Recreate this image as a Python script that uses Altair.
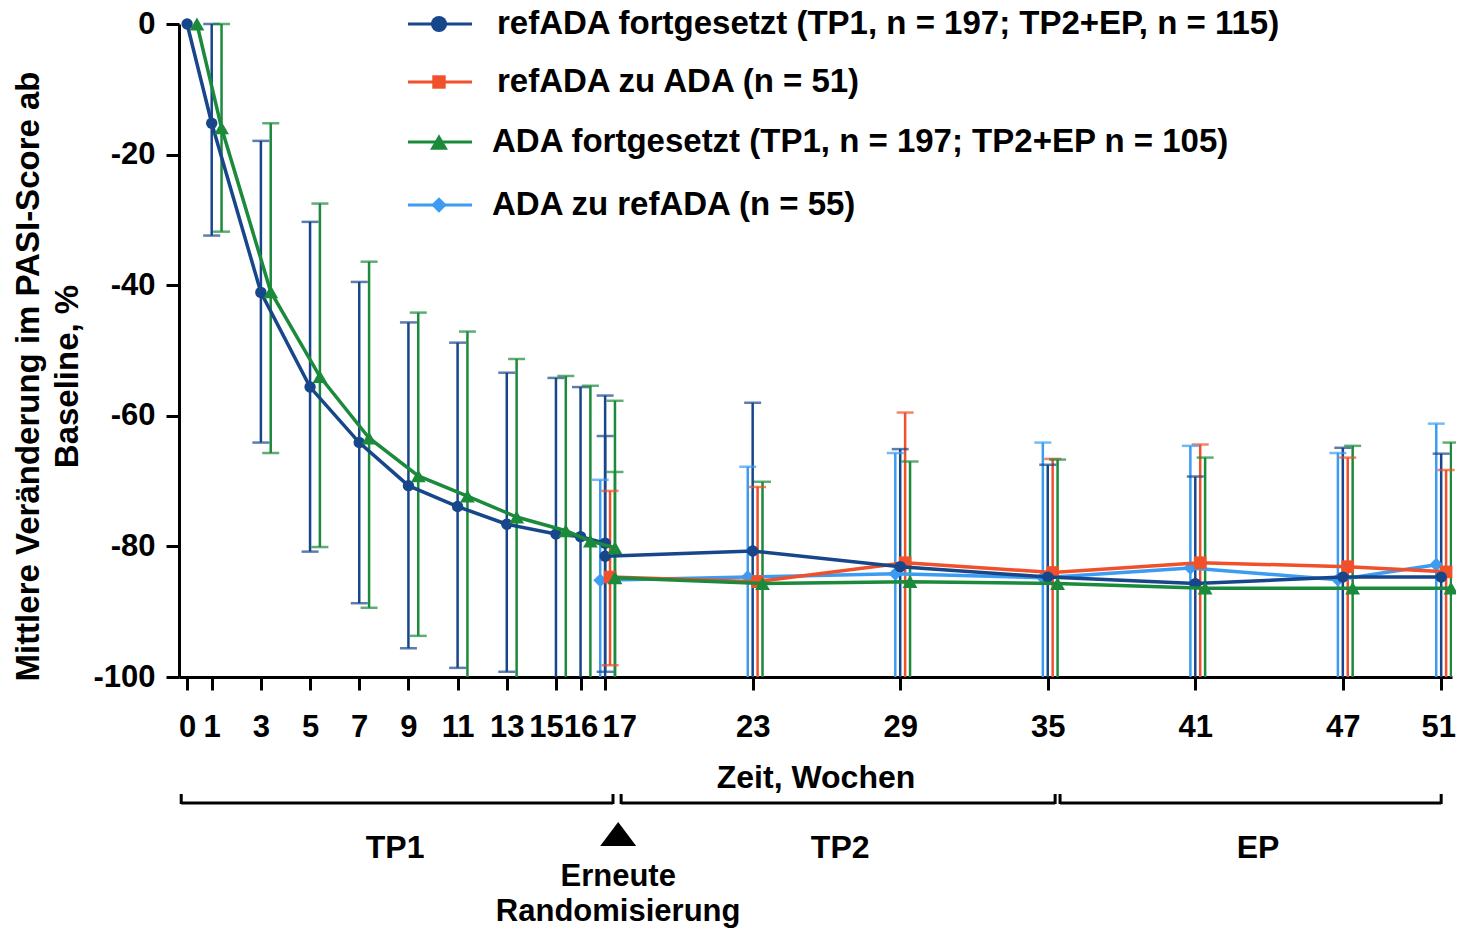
import math
import altair as alt
import pandas as pd

FONT = "Liberation Sans, Arial, Helvetica, sans-serif"

# ---------------- data ----------------
S_BLUE = "refADA fortgesetzt"
S_RED = "refADA zu ADA"
S_GREEN = "ADA fortgesetzt"
S_LB = "ADA zu refADA"

series_names = [S_BLUE, S_RED, S_GREEN, S_LB]
series_colors = ["#17468a", "#f0502a", "#1b8a3b", "#3b9cf2"]
series_shapes = ["circle", "square", "triangle-up", "diamond"]
series_point_size = [130, 160, 220, 190]
series_dx = [0.0, 0.2, 0.4, -0.2]          # small dodge (weeks) between groups
draw_order = [S_LB, S_RED, S_BLUE, S_GREEN]

legend_labels = [
    "refADA fortgesetzt (TP1, n = 197; TP2+EP, n = 115)",
    "refADA zu ADA (n = 51)",
    "ADA fortgesetzt (TP1, n = 197; TP2+EP n = 105)",
    "ADA zu refADA (n = 55)",
]

x_ticks = [0, 1, 3, 5, 7, 9, 11, 13, 15, 16, 17, 23, 29, 35, 41, 47, 51]
y_ticks = [-100, -80, -60, -40, -20, 0]

NaN = float("nan")
weeks_tp1 = [0, 1, 3, 5, 7, 9, 11, 13, 15, 16, 17]
weeks_tp2 = [17, 23, 29, 35, 41, 47, 51]

blue_tp1_mean = [0, -15.2, -41.1, -55.6, -64.1, -70.7, -73.9, -76.6, -78.1, -78.5, -79.5]
blue_tp1_hi = [NaN, 0, -17.9, -30.3, -39.5, -45.7, -48.8, -53.4, -54.2, -55.6, -56.9]
blue_tp1_lo = [NaN, -32.4, -64.1, -80.8, -88.7, -95.6, -98.6, -99.2, -102.0, -101.4, -102.1]

green_tp1_mean = [0, -15.9, -41.0, -54.0, -63.4, -69.2, -72.3, -75.5, -77.6, -79.2, -80.2]
green_tp1_hi = [NaN, 0, -15.2, -27.5, -36.4, -44.2, -47.1, -51.3, -53.9, -55.4, -57.7]
green_tp1_lo = [NaN, -31.8, -65.7, -80.1, -89.4, -93.7, -101.0, -101.0, -101.5, -102.0, -103.0]

blue_tp2_mean = [-81.5, -80.7, -83.1, -84.7, -85.7, -84.7, -84.7]
blue_tp2_hi = [-63.1, -58.0, -65.1, -67.5, -69.3, -64.9, -65.8]
blue_tp2_lo = [-99.2, -103.4, -101.1, -101.9, -102.1, -104.5, -103.6]

red_tp2_mean = [-84.7, -85.4, -82.5, -84.0, -82.5, -83.1, -83.9]
red_tp2_hi = [-71.5, -70.9, -59.5, -66.6, -64.4, -66.4, -68.3]
red_tp2_lo = [-98.2, -100.5, -105.5, -101.4, -100.6, -100.5, -100.5]

green_tp2_mean = [-84.8, -85.7, -85.4, -85.7, -86.4, -86.4, -86.4]
green_tp2_hi = [-68.6, -70.1, -67.0, -66.7, -66.4, -64.6, -64.1]
green_tp2_lo = [-101.0, -101.3, -103.8, -104.7, -106.4, -108.2, -108.7]

lb_tp2_mean = [-85.2, -84.7, -84.2, -84.8, -83.3, -85.1, -82.8]
lb_tp2_hi = [-69.8, -67.8, -65.7, -64.1, -64.6, -65.7, -61.2]
lb_tp2_lo = [-100.6, -101.6, -102.7, -105.5, -102.0, -104.5, -104.4]

# annotation (below the axis), in weeks
phase_labels = ["TP1", "TP2", "EP"]
phase_label_week = [8.46, 26.56, 43.55]
bracket_start = [-0.24, 17.65, 35.5]
bracket_end = [17.32, 35.3, 51.0]
rerandom_week = [17.53]
rerandom_text = ["Erneute", "Randomisierung"]

# ---------------- table ----------------
rows = []
def add(series, phase, weeks, mean, lo, hi):
    dx = series_dx[series_names.index(series)]
    for w, m, l, h in zip(weeks, mean, lo, hi):
        rows.append(dict(series=series, phase=phase, week=w, x=w + dx,
                         mean=m,
                         lo=None if (isinstance(l, float) and math.isnan(l)) else l,
                         hi=None if (isinstance(h, float) and math.isnan(h)) else h))

add(S_BLUE, "TP1", weeks_tp1, blue_tp1_mean, blue_tp1_lo, blue_tp1_hi)
add(S_GREEN, "TP1", weeks_tp1, green_tp1_mean, green_tp1_lo, green_tp1_hi)
add(S_BLUE, "TP2", weeks_tp2, blue_tp2_mean, blue_tp2_lo, blue_tp2_hi)
add(S_RED, "TP2", weeks_tp2, red_tp2_mean, red_tp2_lo, red_tp2_hi)
add(S_GREEN, "TP2", weeks_tp2, green_tp2_mean, green_tp2_lo, green_tp2_hi)
add(S_LB, "TP2", weeks_tp2, lb_tp2_mean, lb_tp2_lo, lb_tp2_hi)
df = pd.DataFrame(rows)

# ---------------- scales / axes ----------------
x_scale = alt.Scale(domain=[-0.33, 51.44], nice=False, zero=False)
y_scale = alt.Scale(domain=[-100, 0], nice=False, zero=False)

x_axis = alt.Axis(
    values=x_ticks, title="Zeit, Wochen", labelOverlap=False, labelFlush=False,
    labelBound=False, labelPadding=37, labelBaseline="middle",
    labelOffset={"condition": [{"test": "datum.value === 15", "value": -10},
                               {"test": "datum.value === 17", "value": 14},
                               {"test": "datum.value === 51", "value": -3}],
                 "value": 0},
    titleY=100, titleBaseline="middle",
)
y_axis = alt.Axis(
    values=y_ticks, labelPadding=11,
    labelExpr="datum.value < 0 ? '-' + abs(datum.value) : '' + datum.value",
    title=["Mittlere Veränderung im PASI-Score ab", "Baseline, %"],
    titleX=-134, titleY=352, titleAlign="center", titleAngle=-90,
    titleBaseline="bottom", titleLineHeight=39, titleFontSize=33,
)

X = alt.X("x:Q", scale=x_scale, axis=x_axis)
Y_MEAN = alt.Y("mean:Q", scale=y_scale, axis=y_axis)
color = alt.Color("series:N", scale=alt.Scale(domain=series_names, range=series_colors), legend=None)

base = alt.Chart(df)

err_rules = base.mark_rule(strokeWidth=2.5, clip=True).encode(
    x=X, y=alt.Y("lo:Q", scale=y_scale, axis=y_axis), y2="hi:Q", color=color
).transform_filter("isValid(datum.hi)")

caps_hi = base.mark_tick(orient="horizontal", size=17, thickness=2.5).encode(
    x=X, y=alt.Y("hi:Q", scale=y_scale, axis=y_axis), color=color
).transform_filter("isValid(datum.hi)")

caps_lo = base.mark_tick(orient="horizontal", size=17, thickness=2.5).encode(
    x=X, y=alt.Y("lo:Q", scale=y_scale, axis=y_axis), color=color
).transform_filter("isValid(datum.lo) && datum.lo >= -100")

layers = [err_rules, caps_hi, caps_lo]
for s in draw_order:
    i = series_names.index(s)
    sub = base.transform_filter(alt.datum.series == s)
    layers.append(sub.mark_line(strokeWidth=3.5, color=series_colors[i]).encode(
        x=X, y=Y_MEAN, detail="phase:N"))
    layers.append(sub.mark_point(filled=True, opacity=1, color=series_colors[i],
                                 shape=series_shapes[i], size=series_point_size[i]).encode(
        x=X, y=Y_MEAN))

# ---------------- legend (drawn) ----------------
dummy = alt.Chart(pd.DataFrame({"d": [0]}))
legend_y = [0, 58, 118, 181]
legend_sym_size = [260, 180, 320, 240]
for i, s in enumerate(series_names):
    ly = legend_y[i]
    layers.append(dummy.mark_rule(strokeWidth=3, color=series_colors[i]).encode(
        x=alt.value(229), x2=alt.value(293), y=alt.value(ly)))
    layers.append(dummy.mark_point(filled=True, opacity=1, color=series_colors[i],
                                   shape=series_shapes[i], size=legend_sym_size[i]).encode(
        x=alt.value(260), y=alt.value(ly)))
    layers.append(dummy.mark_text(align="left", baseline="middle", font=FONT, fontSize=33,
                                  fontWeight="bold", color="black").encode(
        x=alt.value(318 if i < 2 else 313), y=alt.value(ly), text=alt.value(legend_labels[i])))

# ---------------- annotations below the axis ----------------
ann_br = alt.Chart(pd.DataFrame({"x": bracket_start, "x2": bracket_end}))
XA = alt.X("x:Q", scale=x_scale, axis=x_axis)
layers.append(ann_br.mark_rule(strokeWidth=3, color="black").encode(
    x=XA, x2="x2:Q", y=alt.value(779)))
layers.append(ann_br.mark_rule(strokeWidth=3, color="black").encode(
    x=XA, y=alt.value(770), y2=alt.value(780)))
layers.append(ann_br.mark_rule(strokeWidth=3, color="black").encode(
    x=alt.X("x2:Q", scale=x_scale, axis=x_axis), y=alt.value(770), y2=alt.value(780)))

ann_txt = alt.Chart(pd.DataFrame({"x": phase_label_week, "t": phase_labels}))
layers.append(ann_txt.mark_text(font=FONT, fontSize=32, fontWeight="bold", color="black",
                                baseline="middle").encode(x=XA, y=alt.value(824), text="t:N"))

ann_tri = alt.Chart(pd.DataFrame({"x": rerandom_week}))
layers.append(ann_tri.mark_point(filled=True, opacity=1, color="black",
                                 shape="M-1,0.667L1,0.667L0,-0.667Z", size=1296).encode(
    x=XA, y=alt.value(810)))

ann_rr = alt.Chart(pd.DataFrame({"x": rerandom_week * 2, "t": rerandom_text, "yy": [853, 888]}))
layers.append(ann_rr.mark_text(font=FONT, fontSize=31, fontWeight="bold", color="black",
                               baseline="middle").encode(
    x=XA, y=alt.Y("yy:Q", scale=None), text="t:N"))

chart = alt.layer(*layers).properties(
    width=1273, height=653,
    autosize=alt.AutoSizeParams(type="none"),
    padding={"left": 171, "top": 16, "right": 4, "bottom": 251},
).configure_view(stroke=None).configure_axis(
    grid=False, domainColor="black", domainWidth=3, tickColor="black", tickWidth=3,
    tickSize=13, labelFont=FONT, labelFontSize=31, labelFontWeight="bold",
    labelColor="black", titleFont=FONT, titleFontSize=32, titleFontWeight="bold",
    titleColor="black",
)

chart.save("out.html", embed_options={"renderer": "svg", "actions": False})
